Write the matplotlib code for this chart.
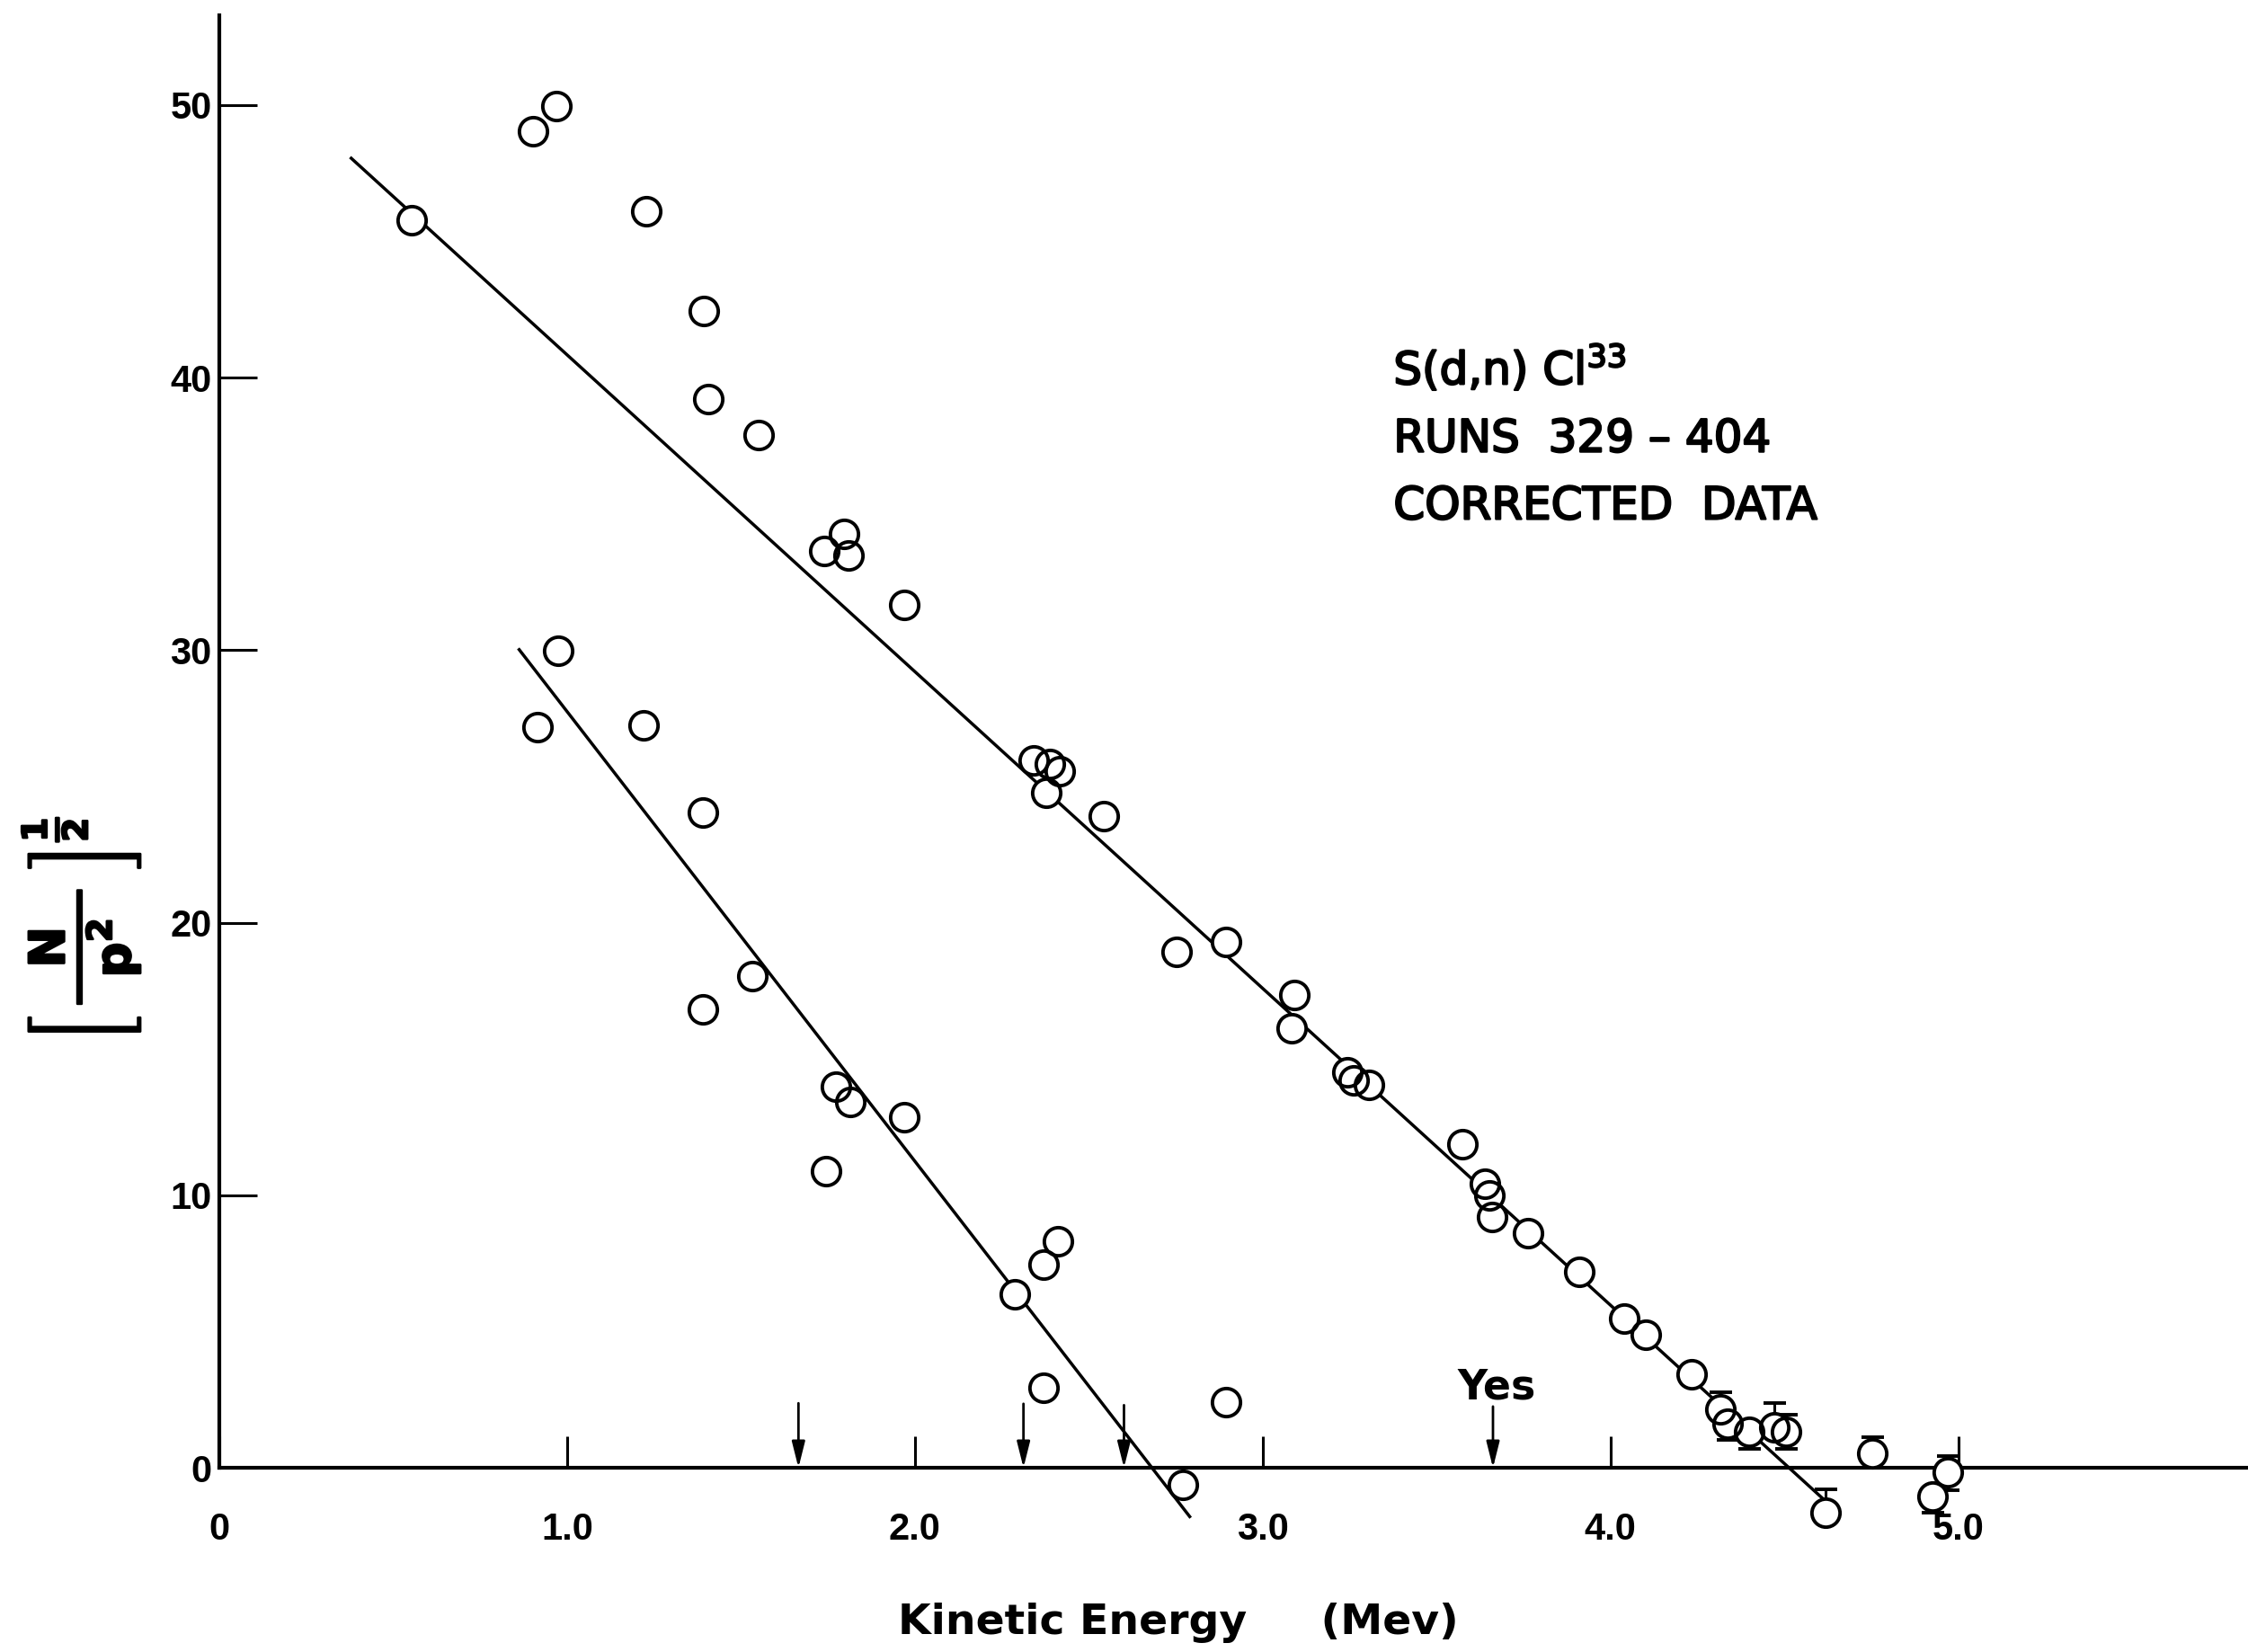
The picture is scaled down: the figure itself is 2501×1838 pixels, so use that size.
import numpy as np
import matplotlib.pyplot as plt
import matplotlib.patheffects as pe

# upper group
upper_e = [0.552, 0.903, 0.969, 1.228, 1.393, 1.406, 1.550, 1.739, 1.797, 1.810,
           1.970, 2.341, 2.387, 2.415, 2.378, 2.543, 2.753, 2.894, 3.092, 3.083,
           3.244, 3.261, 3.306, 3.574, 3.640, 3.652, 3.660, 3.763, 3.910, 4.040,
           4.101, 4.233, 4.316, 4.336, 4.398, 4.472, 4.505, 4.617, 4.753, 4.926, 4.971]
upper_v = [45.79, 49.05, 49.95, 46.11, 42.43, 39.22, 37.91, 33.65, 34.28, 33.49,
           31.65, 25.97, 25.81, 25.55, 24.76, 23.92, 18.93, 19.30, 17.35, 16.14,
           14.51, 14.20, 14.04, 11.88, 10.41, 9.99, 9.20, 8.62, 7.20, 5.47,
           4.89, 3.42, 2.16, 1.63, 1.31, 1.47, 1.31, -1.63, 0.53, -1.05, -0.16]

# error bars on the last points (lower, upper)
err_e = [4.316, 4.336, 4.398, 4.472, 4.505, 4.617, 4.753, 4.926, 4.971]
err_v = [2.16, 1.63, 1.31, 1.47, 1.31, -1.63, 0.53, -1.05, -0.16]
err_lo = [0.0, 0.6, 0.6, 0.0, 0.6, 0.0, 0.0, 0.6, 0.65]
err_hi = [0.6, 0.0, 0.0, 0.9, 0.65, 0.85, 0.6, 0.0, 0.6]

# lower group
lower_e = [0.915, 0.973, 1.220, 1.389, 1.389, 1.533, 1.772, 1.814, 1.744, 1.970,
           2.288, 2.411, 2.370, 2.370, 2.770, 2.894]
lower_v = [27.18, 29.97, 27.23, 24.03, 16.82, 18.03, 13.99, 13.41, 10.88, 12.88,
           6.36, 8.31, 7.47, 2.94, -0.63, 2.42]

# hand drawn fit lines (end points)
fit1_e = [0.379, 4.608]
fit1_v = [48.05, -1.10]
fit2_e = [0.862, 2.790]
fit2_v = [30.02, -1.79]

# arrows on the energy axis
arrow_e = [1.665, 2.312, 2.601, 3.662]
arrow_top = [2.37, 2.35, 2.30, 2.25]

xticks = [0, 1, 2, 3, 4, 5]
xlabels = ['0', '1.0', '2.0', '3.0', '4.0', '5.0']
yticks = [0, 10, 20, 30, 40, 50]
ylabels = ['0', '10', '20', '30', '40', '50']

fig = plt.figure(figsize=(25.01, 18.38), dpi=100)
ax = fig.add_axes([0.0976, 0.062, 0.9024, 0.929])
ax.set_xlim(0, 5.833)
ax.set_ylim(-3, 53.31)

ax.plot(fit1_e, fit1_v, color='k', lw=2.5, zorder=1)
ax.plot(fit2_e, fit2_v, color='k', lw=2.5, zorder=1)

ax.errorbar(err_e, err_v, yerr=[err_lo, err_hi], fmt='none', ecolor='k',
            elinewidth=2.2, capsize=9, capthick=2.8, zorder=2)

all_e = upper_e + lower_e
all_v = upper_v + lower_v
# white fill first so lines stop at the circles, then all outlines on top
ax.plot(all_e, all_v, 'o', ms=22.5, mfc='white', mec='none', zorder=3)
ax.plot(all_e, all_v, 'o', ms=22.5, mfc='none', mec='k', mew=2.8, zorder=4)

for e, top in zip(arrow_e, arrow_top):
    ax.annotate('', xy=(e, 0), xytext=(e, top),
                arrowprops=dict(arrowstyle='-|>,head_length=0.8,head_width=0.2',
                                color='k', lw=2, mutation_scale=22,
                                shrinkA=0, shrinkB=0))

ax.text(3.673, 2.94, 'Yes', fontsize=33, fontweight='bold',
        ha='center', va='center')

thick = [pe.withStroke(linewidth=1.6, foreground='k')]
ax.text(3.376, 39.75, 'S(d,n) Cl$^{33}$', fontsize=36, va='baseline', path_effects=thick)
ax.text(3.376, 37.28, 'RUNS  329 – 404', fontsize=36, va='baseline', path_effects=thick)
ax.text(3.376, 34.81, 'CORRECTED  DATA', fontsize=36, va='baseline', path_effects=thick)

for s in ['top', 'right']:
    ax.spines[s].set_visible(False)
ax.spines['bottom'].set_position(('data', 0))
ax.spines['left'].set_bounds(0, 53.31)
ax.spines['bottom'].set_linewidth(3)
ax.spines['left'].set_linewidth(3)

ax.set_xticks(xticks)
ax.set_xticklabels(xlabels, fontsize=30, fontweight='bold', family='Liberation Sans')
ax.set_yticks(yticks)
ax.set_yticklabels(ylabels, fontsize=30, fontweight='bold', family='Liberation Sans')
ax.tick_params(axis='x', direction='in', length=25, width=2.2, pad=35)
ax.tick_params(axis='y', direction='in', length=30, width=2.2, pad=6)

ax.set_xlabel('Kinetic Energy     (Mev)', fontsize=34, fontweight='bold')
ax.xaxis.set_label_coords(0.4728, -0.0345)

ax.set_ylabel(r'$\left[\,\frac{\;\;\mathbf{N}\;\;}{\;\;\mathbf{p}^{\mathbf{2}}\;\;}\,\right]^{\frac{\mathbf{1}}{\mathbf{2}}}$',
              fontsize=56, rotation=90, ha='center', va='center',
              path_effects=[pe.withStroke(linewidth=1.8, foreground='k')])
ax.yaxis.set_label_coords(-0.0685, 0.404)

fig.savefig('out.png', dpi=100)
